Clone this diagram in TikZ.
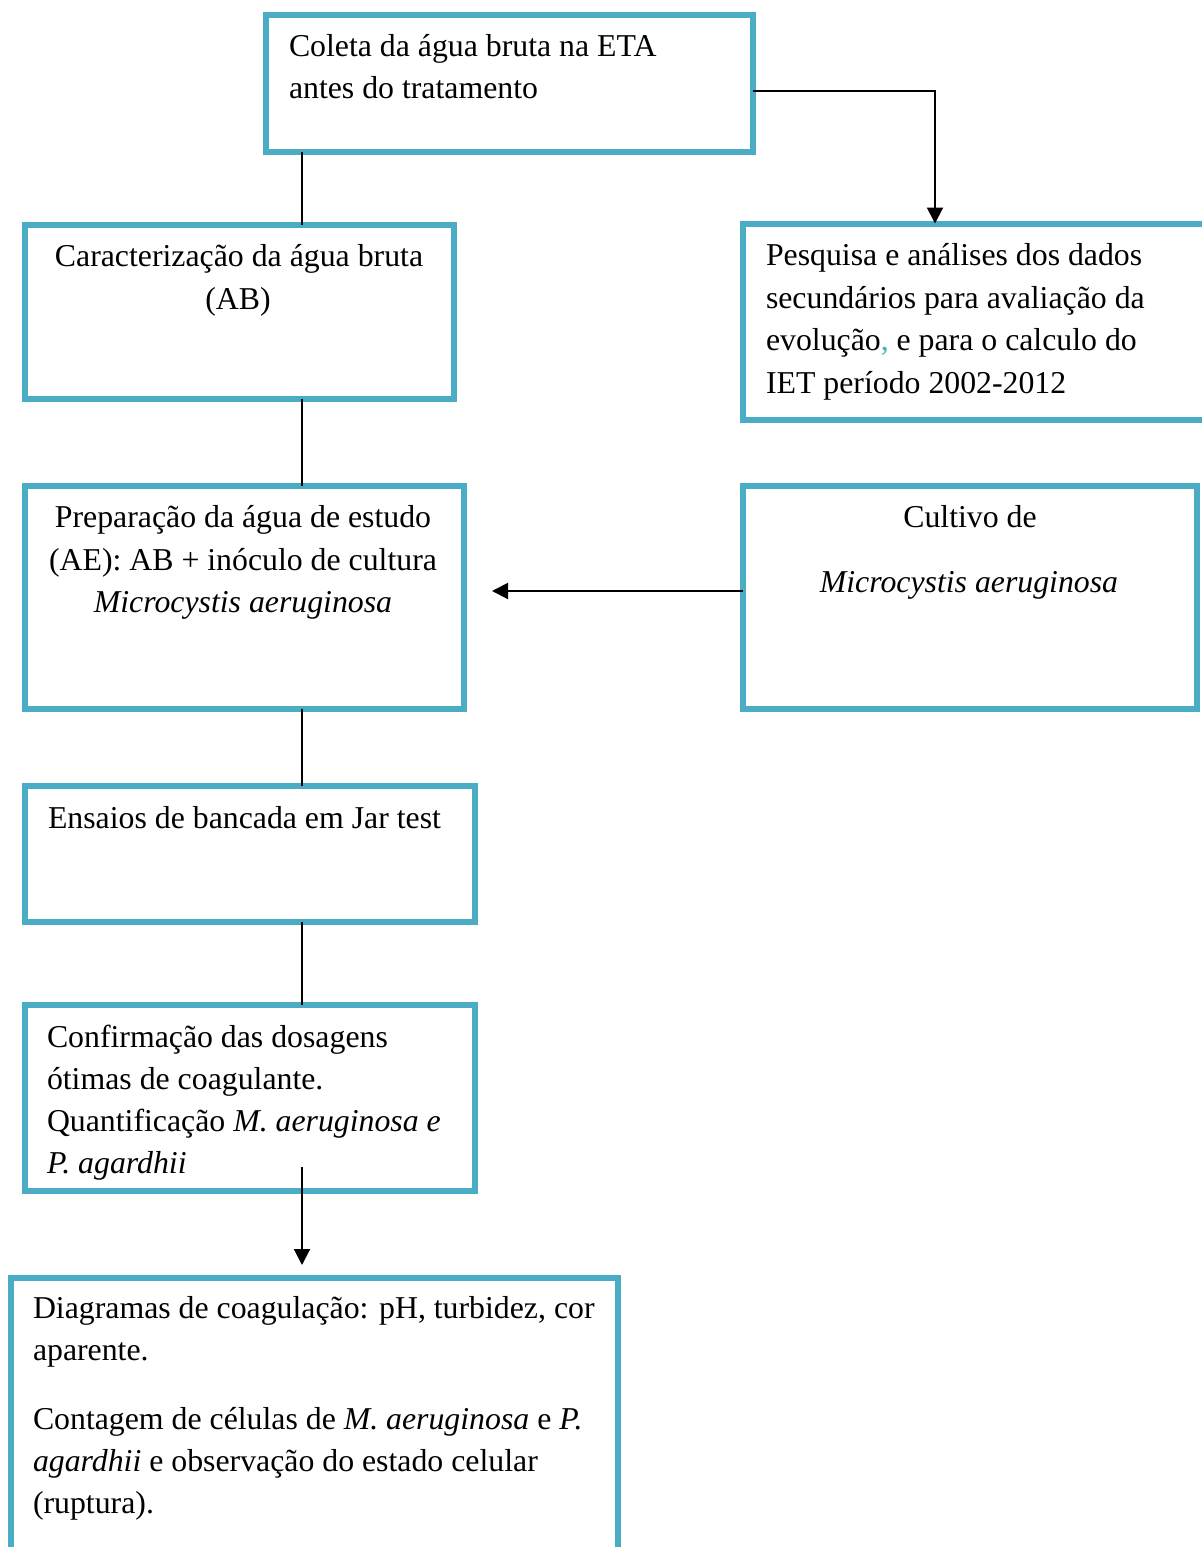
\documentclass[tikz,border=0pt]{standalone}
\usepackage{fontspec}
\setmainfont{Liberation Serif}
\usetikzlibrary{fit,arrows.meta}
\definecolor{boxblue}{HTML}{4BACC6}
\begin{document}
\begin{tikzpicture}[x=0.5pt,y=-0.5pt,
  box/.style={draw=boxblue,line width=3pt,inner sep=0pt,outer sep=0pt},
  txt/.style={inner sep=0pt,outer sep=0pt,font=\fontsize{15.9}{21}\selectfont},
  conn/.style={line width=1pt},
  arr/.style={conn,-{Triangle[length=8pt,width=8pt]}}]
\useasboundingbox (0,0) rectangle (1202,1547);
\clip (0,0) rectangle (1202,1547);

% boxes
\node[box,fit={(266,15)(753,151.5)}] (b1) {};
\node[box,fit={(25,224.5)(453.5,398.5)}] (b2) {};
\node[box,fit={(743,223.5)(1214,419.5)}] (b3) {};
\node[box,fit={(25,485.5)(463.5,708.5)}] (b4) {};
\node[box,fit={(743,485.5)(1197,709)}] (b5) {};
\node[box,fit={(25,785.5)(475,922)}] (b6) {};
\node[box,fit={(25,1005)(475,1190.5)}] (b7) {};
\node[box,fit={(10.5,1278)(618,1620)}] (b8) {};

% texts
\node[txt,anchor=base west] (t1a) at (289,56) {Coleta da água bruta na ETA};
\node[txt,anchor=base west] (t1b) at (289,98.5) {antes do tratamento};

\node[txt,anchor=base] (t2a) at (239,266) {Caracterização da água bruta};
\node[txt,anchor=base] (t2b) at (238,309) {(AB)};

\node[txt,anchor=base west] (t3a) at (766,265) {Pesquisa e análises dos dados};
\node[txt,anchor=base west] (t3b) at (766,308) {secundários para avaliação da};
\node[txt,anchor=base west] (t3c) at (766,350) {evolução{\color{boxblue},} e para o calculo do};
\node[txt,anchor=base west] (t3d) at (766,393) {IET período 2002-2012};

\node[txt,anchor=base] (t4a) at (243,527) {Preparação da água de estudo};
\node[txt,anchor=base] (t4b) at (243,570) {(AE): AB + inóculo de cultura};
\node[txt,anchor=base] (t4c) at (243,612) {\itshape Microcystis aeruginosa};

\node[txt,anchor=base] (t5a) at (970,527) {Cultivo de};
\node[txt,anchor=base] (t5b) at (969,592) {\itshape Microcystis aeruginosa};

\node[txt,anchor=base west] (t6a) at (48,828) {Ensaios de bancada em Jar test};

\node[txt,anchor=base west] (t7a) at (47,1047) {Confirmação das dosagens};
\node[txt,anchor=base west] (t7b) at (47,1089) {ótimas de coagulante.};
\node[txt,anchor=base west] (t7c) at (47,1131) {Quantificação \textit{M. aeruginosa e}};
\node[txt,anchor=base west] (t7d) at (47,1173) {\itshape P. agardhii};

\node[txt,anchor=base west] (t8a) at (33,1318) {Diagramas de coagulação: pH, turbidez, cor};
\node[txt,anchor=base west] (t8b) at (33,1360) {aparente.};
\node[txt,anchor=base west] (t8c) at (33,1429) {Contagem de células de \textit{M. aeruginosa} e \textit{P.}};
\node[txt,anchor=base west] (t8d) at (33,1471) {\textit{agardhii} e observação do estado celular};
\node[txt,anchor=base west] (t8e) at (33,1513) {(ruptura).};

% connectors
\coordinate (spine) at (302,0);
\coordinate (k1) at (0,91);
\coordinate (k2) at (935,0);
\coordinate (k3) at (0,591);
\coordinate (tip4) at (492,591);
\coordinate (s7) at (302,1167);
\coordinate (tip8) at (302,1265);

\draw[conn] (spine |- b1.south) -- (spine |- b2.north);
\draw[conn] (spine |- b2.south) -- (spine |- b4.north);
\draw[conn] (spine |- b4.south) -- (spine |- b6.north);
\draw[conn] (spine |- b6.south) -- (spine |- b7.north);
\draw[arr] (b1.east |- k1) -| (k2 |- b3.north);
\draw[arr] (b5.west |- k3) -- (tip4);
\draw[arr] (s7) -- (tip8);
\end{tikzpicture}
\end{document}
